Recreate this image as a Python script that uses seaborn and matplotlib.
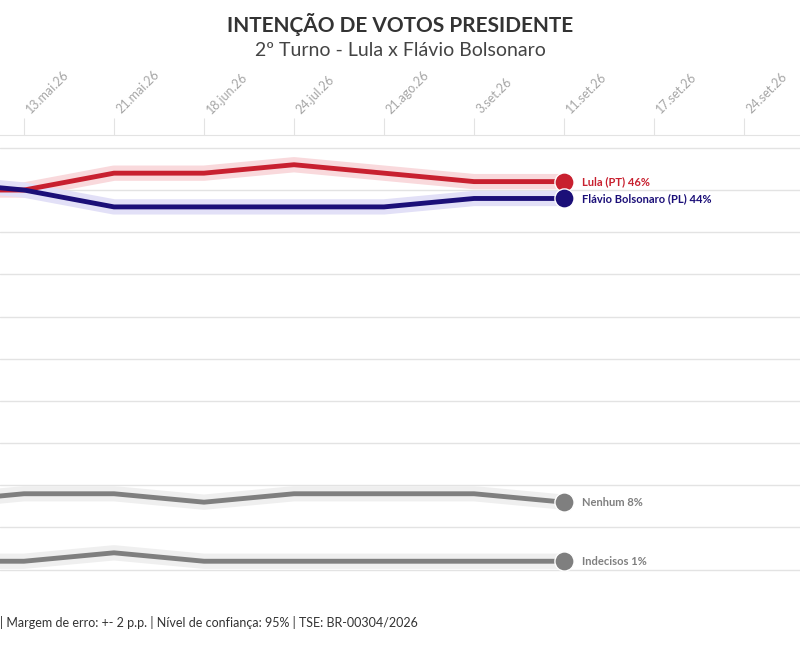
import numpy as np
import pandas as pd
import matplotlib.pyplot as plt
import seaborn as sns

dates = ["6.mai.26", "13.mai.26", "21.mai.26", "18.jun.26", "24.jul.26",
         "21.ago.26", "3.set.26", "11.set.26", "17.set.26", "24.set.26"]
lula = [45, 45, 47, 47, 48, 47, 46, 46]
flavio = [46, 45, 43, 43, 43, 43, 44, 44]
nenhum = [8, 9, 9, 8, 9, 9, 9, 8]
indecisos = [1, 1, 2, 1, 1, 1, 1, 1]

series = [
    ("Lula (PT) 46%", lula, "#c8202f", "#f9d9dc"),
    ("Flávio Bolsonaro (PL) 44%", flavio, "#1b0f78", "#e2e0f7"),
    ("Nenhum 8%", nenhum, "#7f7f7f", "#efefef"),
    ("Indecisos 1%", indecisos, "#7f7f7f", "#efefef"),
]

rows = []
for name, vals, _, _ in series:
    for i, v in enumerate(vals):
        rows.append({"serie": name, "idx": i, "valor": v})
df = pd.DataFrame(rows)

sns.set_style("white")
plt.rcParams['font.family'] = ['Lato', 'DejaVu Sans']

fig = plt.figure(figsize=(8, 6.5), dpi=100)
ax = fig.add_axes([0, 0.108, 1, 0.684])

for name, vals, color, halo in series:
    sub = df[df.serie == name]
    sns.lineplot(data=sub, x="idx", y="valor", ax=ax, color=halo, linewidth=11,
                 solid_capstyle="round", legend=False, zorder=2)
for name, vals, color, halo in series:
    sub = df[df.serie == name]
    sns.lineplot(data=sub, x="idx", y="valor", ax=ax, color=color, linewidth=3.5,
                 legend=False, zorder=3)
    last = len(vals) - 1
    ax.scatter([last], [vals[last]], s=190, color=color, zorder=4, edgecolor="white", linewidth=1)
    ax.text(last + 0.2, vals[last], name, color=color, fontsize=8, fontweight="bold",
            va="center", ha="left", zorder=5)

ax.set_yticks(np.arange(0, 51, 5))
ax.set_yticklabels([])
ax.tick_params(axis="y", length=0)
ax.grid(axis="y", color="#e3e3e3", linewidth=1)
ax.set_xticks(range(len(dates)))
ax.set_xticklabels(dates, rotation=45, ha="left", color="#a6a6a6", fontsize=9)
ax.xaxis.tick_top()
ax.tick_params(axis="x", length=12, color="#e3e3e3", pad=2)
ax.set_xlim(1 - 24 / 90, 1 + 776 / 90)
ax.set_ylim(-1.2, 51.5)
ax.set_xlabel("")
ax.set_ylabel("")
for s in ax.spines.values():
    s.set_visible(False)
ax.spines["top"].set_visible(True)
ax.spines["top"].set_color("#e3e3e3")

fig.text(0.5, 0.963, "INTENÇÃO DE VOTOS PRESIDENTE", ha="center", va="center",
         fontsize=15, fontweight="bold", color="#333333")
fig.text(0.5, 0.922, "2º Turno - Lula x Flávio Bolsonaro", ha="center", va="center",
         fontsize=14, color="#444444")
fig.text(0.0, 0.043, "| Margem de erro: +- 2 p.p. | Nível de confiança: 95% | TSE: BR-00304/2026",
         ha="left", va="center", fontsize=9, color="#333333")

fig.savefig("out.png", dpi=100)
